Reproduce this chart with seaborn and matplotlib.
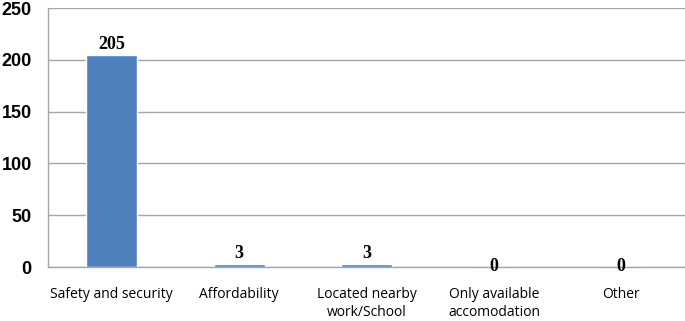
import matplotlib
matplotlib.use("Agg")
import matplotlib.pyplot as plt
import seaborn as sns
import pandas as pd
import numpy as np

# reasons for choosing the accommodation
reasons = ["Safety and security", "Affordability", "Located nearby\nwork/School",
           "Only available\naccomodation", "Other"]
counts = [205, 3, 3, 0, 0]
yticks = [0, 50, 100, 150, 200, 250]

df = pd.DataFrame({"reason": reasons, "count": counts})

sns.set_style("white")
fig = plt.figure(figsize=(6.85, 3.21), dpi=100)
ax = fig.add_axes([0.070, 0.168, 0.930, 0.807])

sns.barplot(data=df, x="reason", y="count", color="#4F81BD", saturation=1,
            width=0.4, ax=ax, zorder=3)

ax.set_ylim(0, 250)
ax.set_xlim(-0.5, len(reasons) - 0.5)
ax.set_yticks(yticks)
ax.set_yticklabels([str(t) for t in yticks], fontsize=13, fontweight="bold",
                   fontfamily="Liberation Sans", color="black")
ax.yaxis.grid(True, color="#a6a6a6", linewidth=1)
ax.set_axisbelow(True)
ax.set_xlabel("")
ax.set_ylabel("")
ax.tick_params(axis="y", length=3.6, color="#a6a6a6", width=1, pad=8)

ax.set_xticks(range(len(reasons)))
ax.set_xticklabels(reasons, fontsize=10, fontfamily="Open Sans", linespacing=1.3,
                   color="black")
ax.tick_params(axis="x", which="major", length=0, pad=14)
ax.set_xticks(np.arange(-0.5, len(reasons)), minor=True)
ax.tick_params(axis="x", which="minor", length=3.6, color="#a6a6a6", width=1, direction="out")

for s in ["top", "right"]:
    ax.spines[s].set_visible(False)
for s in ["left", "bottom"]:
    ax.spines[s].set_color("#a6a6a6")
    ax.spines[s].set_linewidth(1)
ax.spines["bottom"].set_zorder(2)

# value labels (zero labels sit on the axis line, as in the original)
for i, v in enumerate(counts):
    if v > 0:
        ax.text(i, v + 2, str(v), ha="center", va="bottom", fontsize=13,
                fontweight="bold", fontfamily="Liberation Serif", color="black", zorder=5)
    else:
        ax.text(i, v + 0.5, str(v), ha="center", va="center", fontsize=13,
                fontweight="bold", fontfamily="Liberation Serif", color="black", zorder=5)

fig.savefig("out.png", dpi=100)
